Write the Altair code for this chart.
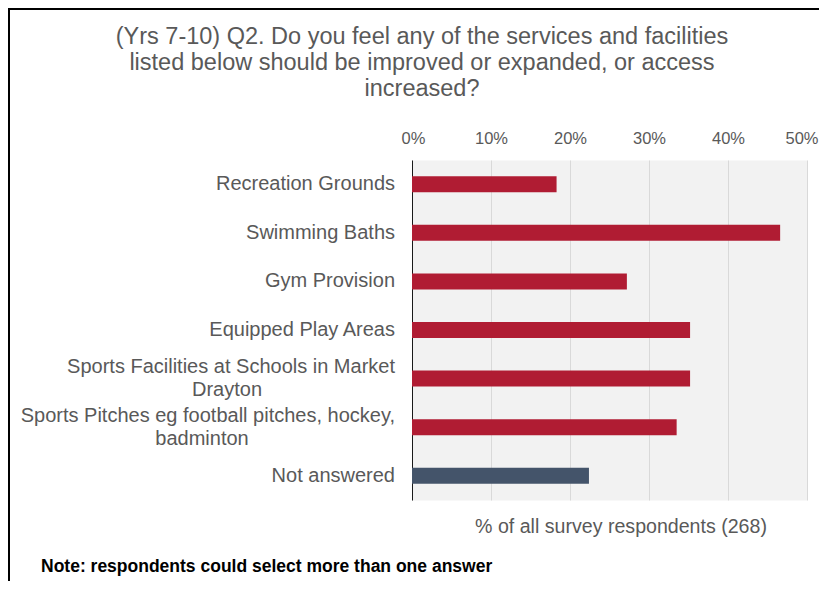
import altair as alt
import pandas as pd

# ---- data ----
categories = [
    "Recreation Grounds",
    "Swimming Baths",
    "Gym Provision",
    "Equipped Play Areas",
    "Sports Facilities at Schools in Market Drayton",
    "Sports Pitches eg football pitches, hockey, badminton",
    "Not answered",
]
label_first = [
    "Recreation Grounds",
    "Swimming Baths",
    "Gym Provision",
    "Equipped Play Areas",
    "Sports Facilities at Schools in Market",
    "Sports Pitches eg football pitches, hockey,",
    "Not answered",
]
label_second = ["", "", "", "", "Drayton", "badminton", ""]
shares = [0.183, 0.466, 0.272, 0.352, 0.352, 0.335, 0.224]
groups = ["answer", "answer", "answer", "answer", "answer", "answer", "none"]
x_ticks = [0, 0.1, 0.2, 0.3, 0.4, 0.5]

title_lines = [
    "(Yrs 7-10) Q2. Do you feel any of the services and facilities",
    "listed below should be improved or expanded, or access",
    "increased?",
]
axis_title = "% of all survey respondents (268)"
note_text = "Note: respondents could select more than one answer"

FONT = "Liberation Sans"
GREY = "#595959"

df = pd.DataFrame({
    "category": categories,
    "first": label_first,
    "second": label_second,
    "share": shares,
    "group": groups,
})
one = pd.DataFrame({"k": [0]})

y_enc = alt.Y(
    "category:N",
    sort=categories,
    scale=alt.Scale(paddingInner=0.67, paddingOuter=0.335),
    axis=alt.Axis(
        title=None, ticks=False, domain=True, domainColor="#1a1a1a", domainWidth=1,
        labels=False, grid=False,
    ),
)

bars = alt.Chart(df).mark_bar().encode(
    x=alt.X(
        "share:Q",
        scale=alt.Scale(domain=[0, 0.5], nice=False),
        axis=alt.Axis(
            orient="top", format=".0%", values=x_ticks, grid=True, gridColor="#d9d9d9",
            gridWidth=1, domain=False, ticks=False, labelFontSize=16.5, labelColor=GREY,
            labelPadding=14, title=None, labelFont=FONT, labelFlush=True,
            labelFlushOffset=11,
        ),
    ),
    y=y_enc,
    color=alt.Color(
        "group:N",
        scale=alt.Scale(domain=["answer", "none"], range=["#b01c33", "#44546a"]),
        legend=None,
    ),
)

label_style = dict(fontSize=20, color=GREY, font=FONT, baseline="middle")

single_labels = alt.Chart(df).transform_filter("datum.second == ''").mark_text(
    align="right", **label_style
).encode(y=y_enc, x=alt.value(-17), text=alt.Text("first:N"))

double_first = alt.Chart(df).transform_filter("datum.second != ''").mark_text(
    align="right", dy=-11.5, **label_style
).encode(y=y_enc, x=alt.value(-17), text=alt.Text("first:N"))

second_layers = []
second_x = {"Drayton": -185, "badminton": -210}
for c, b in zip(categories, label_second):
    if b:
        second_layers.append(
            alt.Chart(df).transform_filter(alt.datum.category == c).mark_text(
                align="center", dy=11.5, **label_style
            ).encode(
                y=y_enc,
                x=alt.value(second_x[b]),
                text=alt.Text("second:N"),
            )
        )

title_text = alt.Chart(one).mark_text(
    align="center", baseline="middle", fontSize=23.5, lineHeight=26, color=GREY, font=FONT
).encode(x=alt.value(10), y=alt.value(-123), text=alt.value(title_lines))

xtitle_text = alt.Chart(one).mark_text(
    align="center", baseline="middle", fontSize=19.6, color=GREY, font=FONT
).encode(x=alt.value(209), y=alt.value(367), text=alt.value(axis_title))

note = alt.Chart(one).mark_text(
    align="left", baseline="middle", fontSize=17.5, fontWeight="bold", color="#000000", font=FONT
).encode(x=alt.value(-371), y=alt.value(407), text=alt.value(note_text))

frame_top = alt.Chart(one).mark_rule(color="#000000", strokeWidth=2).encode(
    x=alt.value(-404), x2=alt.value(407), y=alt.value(-151)
)
frame_left = alt.Chart(one).mark_rule(color="#000000", strokeWidth=2).encode(
    x=alt.value(-403), y=alt.value(-152), y2=alt.value(421)
)

chart = alt.layer(
    bars, single_labels, double_first, *second_layers,
    title_text, xtitle_text, note, frame_top, frame_left
).properties(
    width=395,
    height=340,
    padding={"left": 404, "top": 152, "right": 12, "bottom": 81},
    autosize=alt.AutoSizeParams(type="none"),
    background="#ffffff",
).configure(
    font=FONT,
    view=alt.ViewConfig(fill="#f2f2f2", stroke="transparent"),
)

chart.save("out.html", embed_options={"renderer": "svg", "actions": False})
